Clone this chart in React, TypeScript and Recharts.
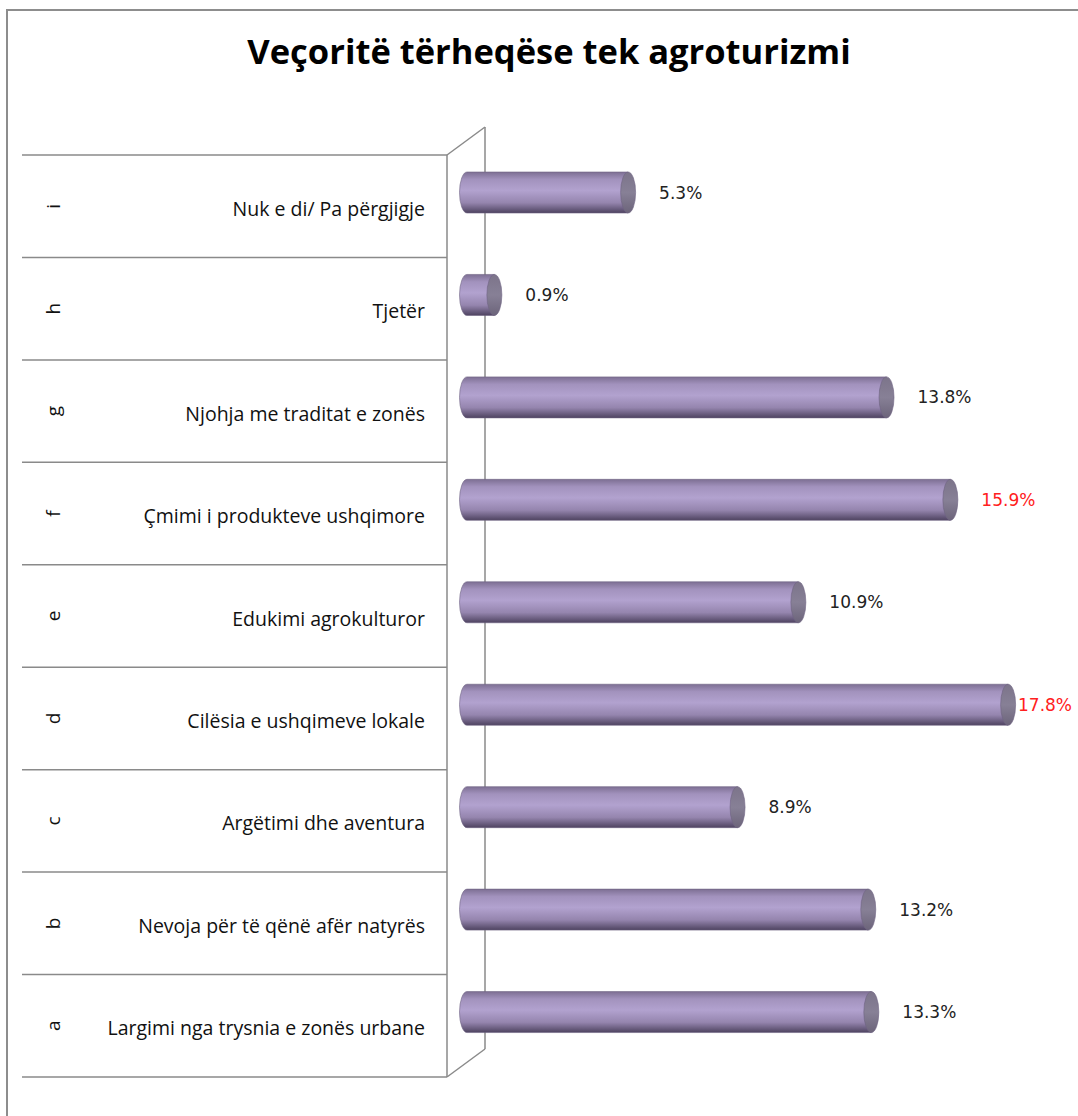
import React from 'react';
import { BarChart, Bar, XAxis, YAxis, LabelList, usePlotArea } from 'recharts';

const CATEGORIES = ['a', 'b', 'c', 'd', 'e', 'f', 'g', 'h', 'i'];
const LABELS = [
  'Largimi nga trysnia e zonës urbane',
  'Nevoja për të qënë afër natyrës',
  'Argëtimi dhe aventura',
  'Cilësia e ushqimeve lokale',
  'Edukimi agrokulturor',
  'Çmimi i produkteve ushqimore',
  'Njohja me traditat e zonës',
  'Tjetër',
  'Nuk e di/ Pa përgjigje',
];
const VALUES = [13.3, 13.2, 8.9, 17.8, 10.9, 15.9, 13.8, 0.9, 5.3];
const HIGHLIGHTED = ['d', 'f'];

const W = 1078;
const H = 1116;
const PLOT_LEFT = 447;
const PLOT_TOP = 155;
const PLOT_BOTTOM = 39;
// 3D offsets: bars sit halfway into the depth of the wall
const DEPTH_X = 38;
const DEPTH_Y = 28;
const DX = 20;
const DY = -14;
const LINE = '#8a8a8a';
const FONT = "'Open Sans', sans-serif";

const data = CATEGORIES.map((code, i) => ({ code, label: LABELS[i], value: VALUES[i] }));

function Frame() {
  const area = usePlotArea ? usePlotArea() : null;
  const x = area ? area.x : PLOT_LEFT;
  const y = area ? area.y : PLOT_TOP;
  const h = area ? area.height : H - PLOT_TOP - PLOT_BOTTOM;
  const band = h / CATEGORIES.length;
  const rows = [];
  for (let i = 0; i <= CATEGORIES.length; i++) {
    const yy = y + i * band;
    rows.push(<line key={i} x1={22} x2={x} y1={yy} y2={yy} stroke={LINE} strokeWidth={1.5} />);
  }
  return (
    <g>
      <defs>
        <linearGradient id="cylGrad" x1="0" y1="0" x2="0" y2="1">
          <stop offset="0%" stopColor="#7d6f93" />
          <stop offset="18%" stopColor="#a292bd" />
          <stop offset="45%" stopColor="#b2a2cf" />
          <stop offset="75%" stopColor="#9585ae" />
          <stop offset="100%" stopColor="#4e4360" />
        </linearGradient>
        <linearGradient id="capGrad" x1="0" y1="0" x2="0" y2="1">
          <stop offset="0%" stopColor="#7c748a" />
          <stop offset="50%" stopColor="#878096" />
          <stop offset="100%" stopColor="#6c647a" />
        </linearGradient>
      </defs>
      {rows}
      <line x1={x} x2={x} y1={y} y2={y + h} stroke={LINE} strokeWidth={1.5} />
      <line x1={x + DEPTH_X} x2={x + DEPTH_X} y1={y - DEPTH_Y} y2={y + h - DEPTH_Y} stroke={LINE} strokeWidth={1.5} />
      <line x1={x} x2={x + DEPTH_X} y1={y} y2={y - DEPTH_Y} stroke={LINE} strokeWidth={1.5} />
      <line x1={x} x2={x + DEPTH_X} y1={y + h} y2={y + h - DEPTH_Y} stroke={LINE} strokeWidth={1.5} />
    </g>
  );
}

function CategoryTick(props: any) {
  const { y, payload } = props;
  const idx = CATEGORIES.indexOf(payload.value);
  return (
    <g>
      <text x={425} y={y + 2} textAnchor="end" dominantBaseline="central" fontFamily={FONT} fontSize={19.5} fill="#111">
        {LABELS[idx]}
      </text>
      <text
        x={53}
        y={y}
        transform={`rotate(-90 53 ${y})`}
        textAnchor="middle"
        dominantBaseline="central"
        fontFamily={FONT}
        fontSize={19}
        fill="#111"
      >
        {payload.value}
      </text>
    </g>
  );
}

function Cylinder(props: any) {
  const { x, y, width, height } = props;
  const X = x + DX;
  const Y = y + DY;
  const rx = 7.5;
  const ry = height / 2;
  const x1 = X + width;
  const body = `M ${X} ${Y} L ${x1} ${Y} L ${x1} ${Y + height} L ${X} ${Y + height} A ${rx} ${ry} 0 0 1 ${X} ${Y} Z`;
  return (
    <g>
      <path d={body} fill="url(#cylGrad)" stroke="#6f6383" strokeWidth={0.6} />
      <ellipse cx={x1} cy={Y + ry} rx={rx} ry={ry} fill="url(#capGrad)" stroke="#6f6383" strokeWidth={0.6} />
    </g>
  );
}

function ValueLabel(props: any) {
  const { x, y, width, height, value, index } = props;
  const code = data[index]?.code;
  const red = HIGHLIGHTED.includes(code);
  // keep the label inside the chart, as the original does for the longest bar
  const lx = Math.min(x + width + DX + 31, W - 60);
  return (
    <text
      x={lx}
      y={y + DY + height / 2}
      dominantBaseline="central"
      fontFamily="'DejaVu Sans', sans-serif"
      fontSize={17}
      fill={red ? '#ff2020' : '#222'}
    >
      {`${value.toFixed(1)}%`}
    </text>
  );
}

export default function App() {
  return (
    <div style={{ position: 'absolute', left: 0, top: 0, width: W, height: H, overflow: 'hidden', background: '#fff' }}>
      <div
        style={{
          position: 'absolute',
          left: 6,
          top: 9,
          width: 1200,
          height: 1200,
          border: '2px solid #8d8d8d',
        }}
      />
      <div
        style={{
          position: 'absolute',
          left: 0,
          top: 27,
          width: 1098,
          textAlign: 'center',
          fontFamily: FONT,
          fontWeight: 700,
          fontSize: 34.5,
          color: '#000',
        }}
      >
        Veçoritë tërheqëse tek agroturizmi
      </div>
      <div style={{ position: 'absolute', left: 0, top: 0 }}>
        <BarChart
          width={W}
          height={H}
          data={data}
          layout="vertical"
          margin={{ top: PLOT_TOP, bottom: PLOT_BOTTOM, left: 0, right: 23 }}
          barSize={41}
        >
          <Frame />
          <XAxis type="number" domain={[0, 20]} hide />
          <YAxis
            type="category"
            dataKey="code"
            reversed
            width={PLOT_LEFT}
            axisLine={false}
            tickLine={false}
            interval={0}
            tick={(p: any) => <CategoryTick {...p} />}
          />
          <Bar dataKey="value" shape={(p: any) => <Cylinder {...p} />} isAnimationActive={false}>
            <LabelList dataKey="value" content={(p: any) => <ValueLabel {...p} />} />
          </Bar>
        </BarChart>
      </div>
    </div>
  );
}
